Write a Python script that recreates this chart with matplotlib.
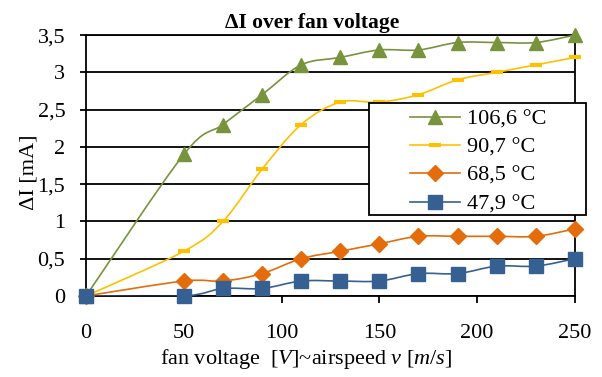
"""Delta I over fan voltage, four temperatures (Excel-style smoothed lines)."""

import matplotlib

matplotlib.use("Agg")
import matplotlib.pyplot as plt
import numpy as np
from matplotlib.lines import Line2D
from matplotlib.patches import PathPatch, Rectangle
from matplotlib.path import Path
from matplotlib.ticker import FuncFormatter

plt.rcParams["font.family"] = ["Liberation Serif", "DejaVu Serif"]
plt.rcParams["mathtext.fontset"] = "custom"
plt.rcParams["mathtext.rm"] = "Liberation Serif"
plt.rcParams["mathtext.it"] = "Liberation Serif:italic"

voltage = [0, 50, 70, 90, 110, 130, 150, 170, 190, 210, 230, 250]
di_106_6 = [0, 1.9, 2.3, 2.7, 3.1, 3.2, 3.3, 3.3, 3.4, 3.4, 3.4, 3.5]
di_90_7 = [0, 0.6, 1.0, 1.7, 2.3, 2.6, 2.6, 2.7, 2.9, 3.0, 3.1, 3.2]
di_68_5 = [0, 0.2, 0.2, 0.3, 0.5, 0.6, 0.7, 0.8, 0.8, 0.8, 0.8, 0.9]
di_47_9 = [0, 0, 0.1, 0.1, 0.2, 0.2, 0.2, 0.3, 0.3, 0.4, 0.4, 0.5]
labels = ["106,6 °C", "90,7 °C", "68,5 °C", "47,9 °C"]
colors = ["#77933C", "#FFC000", "#E46C0A", "#376092"]


def smooth_path(x, y):
    # cardinal spline through the points, like Excel's "smoothed line"
    pts = np.column_stack([x, y]).astype(float)
    verts = [pts[0]]
    codes = [Path.MOVETO]
    n = len(pts)
    for i in range(n - 1):
        p0 = pts[max(i - 1, 0)]
        p1 = pts[i]
        p2 = pts[i + 1]
        p3 = pts[min(i + 2, n - 1)]
        verts += [p1 + (p2 - p0) / 6.0, p2 - (p3 - p1) / 6.0, p2]
        codes += [Path.CURVE4] * 3
    return Path(verts, codes)


fig = plt.figure(figsize=(6.02, 3.77), dpi=100)
ax = fig.add_axes([0.143, 0.215, 0.812, 0.692])

series = [di_106_6, di_90_7, di_68_5, di_47_9]
markers = [
    dict(marker="^", ms=10),
    dict(marker="_", ms=8.5, mew=3),
    dict(marker="D", ms=8.5),
    dict(marker="s", ms=10.5),
]
handles = []
for vals, col, mk in zip(series, colors, markers):
    ax.add_patch(PathPatch(smooth_path(voltage, vals), fill=False,
                           edgecolor=col, lw=1.2, zorder=3))
    ax.plot(voltage, vals, ls="none", color=col, mec=col, zorder=4,
            clip_on=False, **mk)
    handles.append(Line2D([], [], color=col, lw=1.2, mec=col, **mk))

ax.set_xlim(0, 250)
ax.set_ylim(0, 3.5)
ax.set_xticks(range(0, 251, 50))
ax.set_yticks(np.arange(0, 3.51, 0.5))
ax.yaxis.set_major_formatter(
    FuncFormatter(lambda v, _: f"{v:g}".replace(".", ",")))
ax.grid(axis="y", color="black", lw=1.3)
ax.set_axisbelow(True)
for side in ["left", "right", "top", "bottom"]:
    ax.spines[side].set_color("black")
    ax.spines[side].set_linewidth(1.3)
ax.tick_params(axis="both", width=1.3, labelsize=16)
ax.tick_params(axis="x", length=5, pad=15)
ax.tick_params(axis="y", length=4, pad=11)

ax.set_title("ΔI over fan voltage", fontsize=15.5, fontweight="bold",
             pad=5, x=0.463)
ax.set_ylabel("ΔI [mA]", fontsize=16)
ax.yaxis.set_label_coords(-0.098, 0.475)
ax.set_xlabel("fan voltage  [$V$]~airspeed $v$ [$m/s$]", fontsize=16,
              labelpad=3, x=0.45)

# legend box (Excel draws it wider than its entries)
ax.add_patch(Rectangle((0.5787, 0.3103), 0.4438, 0.4291,
                       transform=ax.transAxes, facecolor="white",
                       edgecolor="black", lw=1.3, zorder=5, clip_on=False))
leg = ax.legend(handles, labels, loc="center left",
                bbox_to_anchor=(0.6626, 0.5153), fontsize=16, frameon=False,
                handlelength=2.25, handletextpad=0.3, labelspacing=0.35,
                borderpad=0, borderaxespad=0)
leg.set_zorder(6)

fig.savefig("out.png", dpi=100)
